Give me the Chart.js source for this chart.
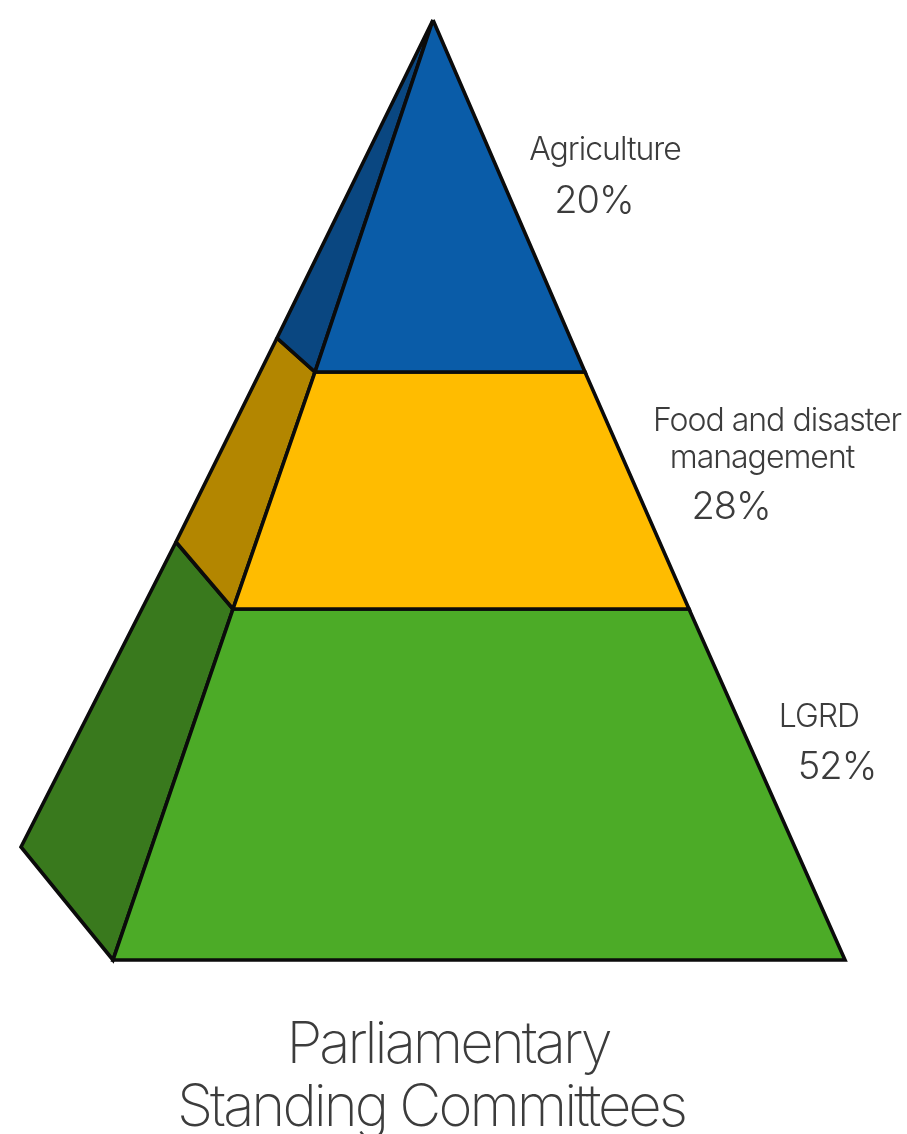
<!DOCTYPE html>
<html>
<head>
<meta charset="utf-8">
<script src="https://cdn.jsdelivr.net/npm/chart.js@4"></script>
<style>
html,body{margin:0;padding:0;background:#fff;overflow:hidden}
canvas{display:block}
</style>
</head>
<body>
<canvas id="c" width="907" height="1134"></canvas>
<script>
const categories = ["Agriculture", "Food and disaster management", "LGRD"];
const shares = [20, 28, 52];
const faceColors = ["#0a5ca8", "#ffbc00", "#4cab27"];
const sideColors = ["#0a4781", "#b38600", "#39791d"];
const titleLines = ["Parliamentary", "Standing Committees"];

// Faces of the pyramid in axis units
const agricultureFaceX = [433, 585, 315];
const agricultureFaceY = [20, 372, 372];
const foodFaceX = [315, 585, 689, 233];
const foodFaceY = [372, 372, 609, 609];
const lgrdFaceX = [233, 689, 845, 113];
const lgrdFaceY = [609, 609, 960, 960];
const agricultureSideX = [433, 315, 277];
const agricultureSideY = [20, 372, 338];
const foodSideX = [277, 315, 233, 176];
const foodSideY = [338, 372, 609, 542];
const lgrdSideX = [176, 233, 113, 21];
const lgrdSideY = [542, 609, 960, 847];

const faceShapes = [[agricultureFaceX, agricultureFaceY], [foodFaceX, foodFaceY], [lgrdFaceX, lgrdFaceY]];
const sideShapes = [[agricultureSideX, agricultureSideY], [foodSideX, foodSideY], [lgrdSideX, lgrdSideY]];

const closed = ([xs, ys]) => xs.concat(xs[0]).map((x, i) => ({x, y: ys.concat(ys[0])[i]}));
const makeDs = (name, shape, color, order) => ({
  label: name, data: closed(shape), polygonFill: color,
  showLine: true, borderColor: "#0b0b0b", borderWidth: 3.6,
  borderJoinStyle: "miter", borderCapStyle: "butt",
  pointRadius: 0, tension: 0, order, clip: false
});

// Text anchors (axis units)
const nameAnchors = [[[605, 150]], [[777, 421], [762, 458]], [[819, 717]]];
const shareAnchors = [[594, 202], [731, 508], [837, 768]];
const titleAnchors = [[448, 1046], [431, 1109]];

const FONT = '"Inter","Roboto","Liberation Sans",sans-serif';
const nameLines = [["Agriculture"], ["Food and disaster", "management"], ["LGRD"]];

const polygonFill = {
  id: "polygonFill",
  beforeDatasetDraw(chart, args) {
    const ds = chart.data.datasets[args.index];
    const pts = args.meta.data;
    const ctx = chart.ctx;
    ctx.save();
    ctx.beginPath();
    pts.forEach((p, i) => i ? ctx.lineTo(p.x, p.y) : ctx.moveTo(p.x, p.y));
    ctx.closePath();
    ctx.fillStyle = ds.polygonFill;
    ctx.fill();
    ctx.restore();
  }
};

const textLabels = {
  id: "textLabels",
  afterDraw(chart) {
    const {ctx, scales: {x, y}} = chart;
    const put = (text, [ax, ay], font, spacing) => {
      ctx.font = font;
      ctx.letterSpacing = spacing;
      ctx.fillText(text, x.getPixelForValue(ax), y.getPixelForValue(ay));
    };
    ctx.save();
    ctx.textAlign = "center";
    ctx.textBaseline = "middle";
    ctx.fillStyle = "#3c3c3c";
    categories.forEach((c, i) => {
      nameLines[i].forEach((line, j) => put(line, nameAnchors[i][j], `300 32px ${FONT}`, "-1px"));
      put(shares[i] + "%", shareAnchors[i], `300 38px ${FONT}`, "-1px");
    });
    titleLines.forEach((line, i) => put(line, titleAnchors[i], `200 58px ${FONT}`, "-3px"));
    ctx.restore();
  }
};

new Chart(document.getElementById("c"), {
  type: "scatter",
  data: {
    datasets: [
      ...categories.map((c, i) => makeDs(c, faceShapes[i], faceColors[i], 1)),
      ...categories.map((c, i) => makeDs(c + " side", sideShapes[i], sideColors[i], 2))
    ]
  },
  options: {
    responsive: false,
    devicePixelRatio: 1,
    animation: false,
    layout: {padding: 0},
    plugins: {legend: {display: false}, title: {display: false}, tooltip: {enabled: false}},
    scales: {
      x: {type: "linear", display: false, min: 0, max: 907},
      y: {type: "linear", display: false, min: 0, max: 1134, reverse: true}
    }
  },
  plugins: [polygonFill, textLabels]
});
</script>
</body>
</html>
